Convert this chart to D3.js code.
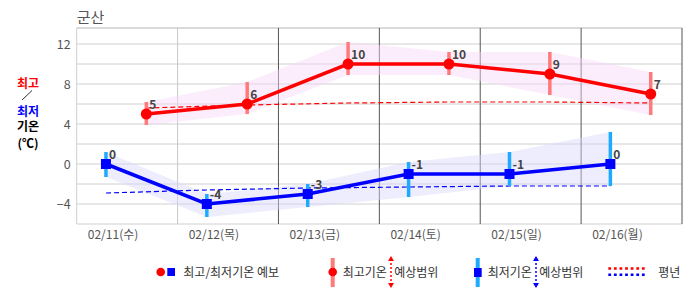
<!DOCTYPE html>
<html>
<head>
<meta charset="utf-8">
<script src="https://cdn.jsdelivr.net/npm/d3@7"></script>
<style>
body{margin:0;background:#fff;}
text{font-family:"Noto Sans CJK KR","Noto Sans",sans-serif;}
</style>
</head>
<body>
<script>
// 군산 기온 예보 데이터
var dates = ["02/11(수)", "02/12(목)", "02/13(금)", "02/14(토)", "02/15(일)", "02/16(월)"];
var highTemps = [5, 6, 10, 10, 9, 7];
var lowTemps = [0, -4, -3, -1, -1, 0];
var highRangeTop = [6.2, 8.2, 12.2, 11.2, 11.2, 9.2];
var highRangeBottom = [3.9, 5.0, 8.9, 8.9, 6.9, 4.9];
var lowRangeTop = [1.2, -3.0, -2.0, 0.2, 1.2, 3.2];
var lowRangeBottom = [-1.3, -5.3, -4.3, -3.3, -2.2, -2.2];
var normalHigh = [5.6, 5.9, 6.1, 6.2, 6.2, 6.1];
var normalLow = [-2.9, -2.6, -2.4, -2.3, -2.2, -2.2];
var yTicks = [-4, 0, 4, 8, 12];
var yGrid = [-4, -2, 0, 2, 4, 6, 8, 10, 12];

(function(){
var W = 686, H = 295;
var pLeft = 76.7, pRight = 682, pTop = 28, pBottom = 224;

var svg = d3.select("body").append("svg")
	.attr("width", W)
	.attr("height", H);

var x = d3.scaleBand().domain(dates).range([pLeft, pRight]);
var y = d3.scaleLinear().domain([-6, 13.6]).range([pBottom, pTop]);
var bw = x.bandwidth();
function xHigh(i){ return x(dates[i]) + bw * 0.69; }
function xLow(i){ return x(dates[i]) + bw * 0.29; }

// 제목
svg.append("text")
	.attr("x", pLeft)
	.attr("y", 23)
	.style("font-size", "15px")
	.style("fill", "#555")
	.text("군산");

// 격자
svg.selectAll(".hgrid")
	.data(yGrid)
	.enter()
	.append("line")
	.attr("x1", pLeft).attr("x2", pRight)
	.attr("y1", function(d){ return y(d); })
	.attr("y2", function(d){ return y(d); })
	.style("stroke", "#d0d0d0");
svg.append("line").attr("x1", pLeft).attr("x2", pRight).attr("y1", pTop).attr("y2", pTop).style("stroke", "#b4b4b4");
svg.append("line").attr("x1", pLeft).attr("x2", pRight).attr("y1", pBottom).attr("y2", pBottom).style("stroke", "#d0d0d0");
svg.append("line").attr("x1", pLeft).attr("x2", pLeft).attr("y1", pTop).attr("y2", pBottom).style("stroke", "#d0d0d0");
svg.selectAll(".vgrid")
	.data(dates)
	.enter()
	.append("line")
	.attr("x1", function(d){ return x(d) + bw; })
	.attr("x2", function(d){ return x(d) + bw; })
	.attr("y1", pTop).attr("y2", pBottom)
	.style("stroke", function(d, i){ return i == 0 ? "#c8c8c8" : "#555"; });

// y축
var yAxis = svg.append("g")
	.attr("transform", "translate(" + pLeft + ",0)")
	.call(d3.axisLeft(y).tickValues(yTicks).tickSize(0).tickPadding(6));
yAxis.select(".domain").remove();
yAxis.selectAll("text").style("font-size", "12.5px").style("fill", "#555").style("font-family", "'Noto Sans CJK KR'");

// x축
var xAxis = svg.append("g")
	.attr("transform", "translate(0," + pBottom + ")")
	.call(d3.axisBottom(x).tickSize(0).tickPadding(6));
xAxis.select(".domain").remove();
xAxis.selectAll("text")
	.attr("dx", -bw * 0.14)
	.style("font-size", "12px")
	.style("fill", "#555")
	.style("font-family", "'Noto Sans CJK KR'");

// 예상범위 밴드
var bandHigh = d3.area()
	.x(function(d, i){ return xHigh(i); })
	.y0(function(d, i){ return y(highRangeBottom[i]); })
	.y1(function(d){ return y(d); });
svg.append("path")
	.datum(highRangeTop)
	.attr("d", bandHigh)
	.style("fill", "#f8d8f8")
	.style("opacity", 0.45);
var bandLow = d3.area()
	.x(function(d, i){ return xLow(i); })
	.y0(function(d, i){ return y(lowRangeBottom[i]); })
	.y1(function(d){ return y(d); });
svg.append("path")
	.datum(lowRangeTop)
	.attr("d", bandLow)
	.style("fill", "#d6d6fa")
	.style("opacity", 0.45);

// 평년
var lineNormalHigh = d3.line().x(function(d, i){ return xHigh(i); }).y(function(d){ return y(d); });
svg.append("path")
	.datum(normalHigh)
	.attr("d", lineNormalHigh)
	.style("fill", "none")
	.style("stroke", "#f00")
	.style("stroke-width", 1.2)
	.style("stroke-dasharray", "5,3");
var lineNormalLow = d3.line().x(function(d, i){ return xLow(i); }).y(function(d){ return y(d); });
svg.append("path")
	.datum(normalLow)
	.attr("d", lineNormalLow)
	.style("fill", "none")
	.style("stroke", "#00f")
	.style("stroke-width", 1.2)
	.style("stroke-dasharray", "5,3");

// 예상범위 막대
svg.selectAll(".rangeHigh")
	.data(highRangeTop)
	.enter()
	.append("line")
	.attr("x1", function(d, i){ return xHigh(i); })
	.attr("x2", function(d, i){ return xHigh(i); })
	.attr("y1", function(d){ return y(d); })
	.attr("y2", function(d, i){ return y(highRangeBottom[i]); })
	.style("stroke", "#ff7a7a")
	.style("stroke-width", 3.5);
svg.selectAll(".rangeLow")
	.data(lowRangeTop)
	.enter()
	.append("line")
	.attr("x1", function(d, i){ return xLow(i); })
	.attr("x2", function(d, i){ return xLow(i); })
	.attr("y1", function(d){ return y(d); })
	.attr("y2", function(d, i){ return y(lowRangeBottom[i]); })
	.style("stroke", "#1eaaff")
	.style("stroke-width", 3.5);

// 최고/최저 기온선
svg.append("path")
	.datum(highTemps)
	.attr("d", d3.line().x(function(d, i){ return xHigh(i); }).y(function(d){ return y(d); }))
	.style("fill", "none")
	.style("stroke", "#f00")
	.style("stroke-width", 3.5);
svg.append("path")
	.datum(lowTemps)
	.attr("d", d3.line().x(function(d, i){ return xLow(i); }).y(function(d){ return y(d); }))
	.style("fill", "none")
	.style("stroke", "#00f")
	.style("stroke-width", 3.5);

svg.selectAll(".ptHigh")
	.data(highTemps)
	.enter()
	.append("circle")
	.attr("cx", function(d, i){ return xHigh(i); })
	.attr("cy", function(d){ return y(d); })
	.attr("r", 5.5)
	.style("fill", "#f00");
svg.selectAll(".ptLow")
	.data(lowTemps)
	.enter()
	.append("rect")
	.attr("x", function(d, i){ return xLow(i) - 5; })
	.attr("y", function(d){ return y(d) - 5; })
	.attr("width", 10)
	.attr("height", 10)
	.style("fill", "#00f");

// 값 라벨
function drawLabels(data, fx){
	svg.selectAll(null)
		.data(data)
		.enter()
		.append("text")
		.attr("x", function(d, i){ return fx(i) + 3; })
		.attr("y", function(d){ return y(d) - 5; })
		.style("font-size", "12px")
		.style("font-weight", "bold")
		.style("fill", "#444")
		.text(function(d){ return String(d); });
}
drawLabels(highTemps, xHigh);
drawLabels(lowTemps, xLow);

// 왼쪽 제목
function sideText(t, yy, color){
	svg.append("text")
		.attr("x", 28)
		.attr("y", yy)
		.attr("text-anchor", "middle")
		.style("font-size", "12px")
		.style("font-weight", "bold")
		.style("fill", color)
		.text(t);
}
sideText("최고", 87.5, "#f00");
svg.append("line").attr("x1", 22).attr("y1", 100).attr("x2", 32).attr("y2", 90.5).style("stroke", "#000").style("stroke-width", 0.8);
sideText("최저", 115.5, "#00f");
sideText("기온", 131, "#000");
sideText("(℃)", 148, "#000");

// 범례
var ly = 272;
function legendText(t1, xx, t2, xx2){
	var t = svg.append("text")
		.attr("x", xx)
		.attr("y", ly + 4.5)
		.style("font-size", "12px")
		.style("fill", "#333");
	t.append("tspan").text(t1);
	if(t2) t.append("tspan").attr("x", xx2).text(" " + t2);
}
function arrow(xx, color){
	svg.append("line")
		.attr("x1", xx).attr("x2", xx)
		.attr("y1", 259).attr("y2", 285)
		.style("stroke", color)
		.style("stroke-width", 1.5)
		.style("stroke-dasharray", "2,2");
	svg.append("path")
		.attr("d", "M" + (xx - 3) + ",261L" + xx + ",256L" + (xx + 3) + ",261Z")
		.style("fill", color);
	svg.append("path")
		.attr("d", "M" + (xx - 3) + ",283L" + xx + ",288L" + (xx + 3) + ",283Z")
		.style("fill", color);
}
svg.append("circle").attr("cx", 160.7).attr("cy", ly).attr("r", 4.3).style("fill", "#f00");
svg.append("rect").attr("x", 167.3).attr("y", 268).attr("width", 7.7).attr("height", 8).style("fill", "#00f");
legendText("최고/최저기온 예보", 183.3);

svg.append("line").attr("x1", 332.7).attr("x2", 332.7).attr("y1", 258).attr("y2", 287).style("stroke", "#ff7a7a").style("stroke-width", 4);
svg.append("circle").attr("cx", 332.7).attr("cy", ly).attr("r", 4.3).style("fill", "#f00");
legendText("최고기온", 342.7, "예상범위", 391.5);
arrow(391, "#f00");

svg.append("line").attr("x1", 477.7).attr("x2", 477.7).attr("y1", 258).attr("y2", 287).style("stroke", "#1eaaff").style("stroke-width", 4);
svg.append("rect").attr("x", 474).attr("y", 268).attr("width", 7.7).attr("height", 9).style("fill", "#00f");
legendText("최저기온", 487.7, "예상범위", 536.5);
arrow(536, "#00f");

svg.append("line").attr("x1", 608.3).attr("x2", 647).attr("y1", 268.5).attr("y2", 268.5).style("stroke", "#f00").style("stroke-width", 2.5).style("stroke-dasharray", "2.8,2.8");
svg.append("line").attr("x1", 608.3).attr("x2", 647).attr("y1", 274.7).attr("y2", 274.7).style("stroke", "#00f").style("stroke-width", 2.5).style("stroke-dasharray", "2.8,2.8");
legendText("평년", 658.3);
})();
</script>
</body>
</html>
